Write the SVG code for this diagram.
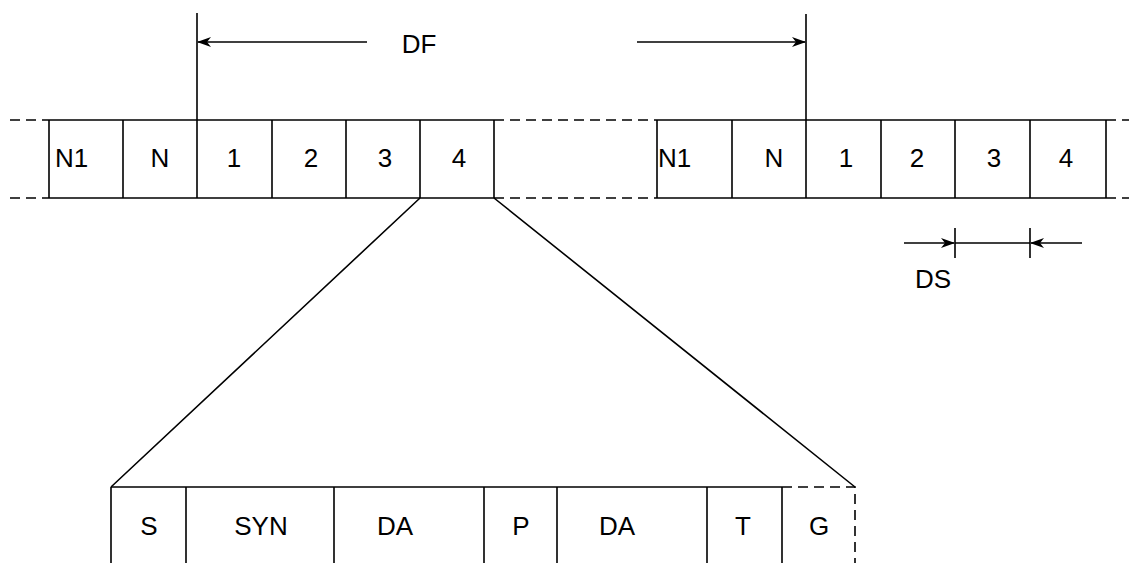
<svg xmlns="http://www.w3.org/2000/svg" width="1129" height="563" viewBox="0 0 1129 563">
<style>
.l{stroke:#000;stroke-width:1.6;fill:none}
.d{stroke:#000;stroke-width:1.6;fill:none;stroke-dasharray:10 6}
text{font-family:"Liberation Sans",Arial,sans-serif;font-size:26px;fill:#000;text-anchor:middle}
</style>
<defs>
<marker id="a" markerWidth="14" markerHeight="10" refX="13" refY="5" orient="auto" markerUnits="userSpaceOnUse">
<path d="M0,0 L14,5 L0,10 L4,5 Z" fill="#000"/>
</marker>
</defs>
<rect width="1129" height="563" fill="#fff"/>
<g id="frame-left">
<path class="l" d="M49,120 H494 M49,198 H494 M49,120 V198 M123,120 V198 M197,120 V198 M272,120 V198 M346,120 V198 M420,120 V198 M494,120 V198"/>
<text x="55" y="167" style="text-anchor:start">N1</text>
<text x="160" y="167">N</text>
<text x="234" y="167">1</text>
<text x="311" y="167">2</text>
<text x="385" y="167">3</text>
<text x="459" y="167">4</text>
</g>
<g id="frame-right">
<path class="l" d="M657,120 H1106 M657,198 H1106 M657,120 V198 M732,120 V198 M806,120 V198 M881,120 V198 M955,120 V198 M1030,120 V198 M1106,120 V198"/>
<text x="658" y="167" style="text-anchor:start">N1</text>
<text x="774" y="167">N</text>
<text x="846" y="167">1</text>
<text x="917" y="167">2</text>
<text x="994" y="167">3</text>
<text x="1066" y="167">4</text>
</g>
<g id="slot-detail">
<path class="l" d="M111,487 H782 M111,487 V563 M186,487 V563 M334,487 V563 M484,487 V563 M557,487 V563 M707,487 V563 M782,487 V563"/>
<path class="d" d="M782,487 H855 V563"/>
<text x="149" y="535">S</text>
<text x="261" y="535">SYN</text>
<text x="395" y="535">DA</text>
<text x="521" y="535">P</text>
<text x="617" y="535">DA</text>
<text x="743" y="535">T</text>
<text x="819" y="535">G</text>
</g>
<g id="connectors">
<path class="d" d="M10,120 H49 M10,198 H49 M494,120 H657 M494,198 H657 M1106,120 H1129 M1106,198 H1129"/>
<path class="l" d="M197,13 V120 M806,14 V120"/>
<path class="l" d="M367,42 H198" marker-end="url(#a)"/>
<path class="l" d="M637,42 H805" marker-end="url(#a)"/>
<path class="l" d="M420,198 L111,487 M494,198 L855,487"/>
<path class="l" d="M955,228 V258 M1030,228 V258 M955,243 H1030"/>
<path class="l" d="M904,243 H954" marker-end="url(#a)"/>
<path class="l" d="M1082,243 H1031" marker-end="url(#a)"/>
</g>
<g id="labels">
<text x="419" y="53">DF</text>
<text x="933" y="288">DS</text>
</g>
</svg>
